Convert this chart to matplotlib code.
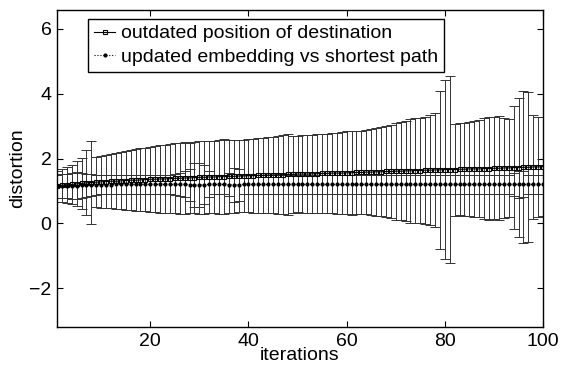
import numpy as np
import matplotlib
matplotlib.use('Agg')
import matplotlib.pyplot as plt

plt.rcParams['font.family'] = ['Liberation Sans', 'DejaVu Sans']

iterations = np.arange(1, 101)

# outdated position of destination
outdated_mean = [1.15, 1.17, 1.19, 1.20, 1.22, 1.23, 1.25, 1.26, 1.27, 1.28,
                 1.29, 1.30, 1.30, 1.31, 1.32, 1.33, 1.33, 1.34, 1.35, 1.36,
                 1.36, 1.37, 1.37, 1.38, 1.39, 1.39, 1.40, 1.40, 1.41, 1.42,
                 1.42, 1.43, 1.43, 1.44, 1.44, 1.45, 1.45, 1.46, 1.46, 1.47,
                 1.47, 1.48, 1.48, 1.49, 1.49, 1.50, 1.50, 1.51, 1.51, 1.52,
                 1.52, 1.52, 1.53, 1.53, 1.54, 1.54, 1.55, 1.55, 1.55, 1.56,
                 1.56, 1.57, 1.57, 1.58, 1.58, 1.59, 1.59, 1.60, 1.60, 1.61,
                 1.61, 1.62, 1.62, 1.63, 1.63, 1.64, 1.64, 1.65, 1.65, 1.66,
                 1.66, 1.66, 1.67, 1.67, 1.68, 1.68, 1.68, 1.69, 1.69, 1.70,
                 1.70, 1.71, 1.71, 1.72, 1.72, 1.73, 1.73, 1.74, 1.74, 1.75]
outdated_err = [0.48, 0.52, 0.55, 0.60, 0.70, 0.80, 1.00, 1.27, 0.78, 0.80,
                0.82, 0.84, 0.86, 0.88, 0.90, 0.92, 0.95, 0.97, 0.98, 1.00,
                1.02, 1.04, 1.05, 1.06, 1.08, 1.10, 1.10, 1.08, 1.10, 1.12,
                1.12, 1.10, 1.12, 1.14, 1.15, 1.12, 1.13, 1.10, 1.12, 1.12,
                1.14, 1.15, 1.16, 1.17, 1.18, 1.20, 1.22, 1.25, 1.20, 1.18,
                1.20, 1.21, 1.20, 1.22, 1.23, 1.22, 1.24, 1.25, 1.27, 1.28,
                1.30, 1.28, 1.27, 1.30, 1.32, 1.35, 1.37, 1.40, 1.45, 1.50,
                1.52, 1.55, 1.60, 1.62, 1.62, 1.65, 1.70, 1.75, 2.45, 2.75,
                2.90, 1.42, 1.42, 1.44, 1.46, 1.48, 1.50, 1.55, 1.60, 1.58,
                1.60, 1.55, 1.52, 1.90, 2.15, 2.35, 2.32, 1.60, 1.55, 1.52]

# updated embedding vs shortest path
updated_mean = [1.14, 1.15, 1.15, 1.16, 1.16, 1.17, 1.17, 1.18, 1.18, 1.19,
                1.19, 1.19, 1.20, 1.20, 1.20, 1.20, 1.20, 1.20, 1.20, 1.20,
                1.20, 1.20, 1.20, 1.20, 1.20, 1.20, 1.20, 1.19, 1.18, 1.18,
                1.19, 1.20, 1.20, 1.20, 1.20, 1.19, 1.18, 1.19, 1.20, 1.20,
                1.20, 1.20, 1.20, 1.20, 1.20, 1.20, 1.20, 1.20, 1.20, 1.20,
                1.20, 1.20, 1.20, 1.20, 1.20, 1.20, 1.20, 1.20, 1.20, 1.20,
                1.20, 1.20, 1.20, 1.20, 1.20, 1.20, 1.20, 1.20, 1.20, 1.20,
                1.20, 1.20, 1.20, 1.20, 1.20, 1.20, 1.20, 1.20, 1.20, 1.20,
                1.20, 1.20, 1.20, 1.20, 1.20, 1.20, 1.20, 1.20, 1.20, 1.20,
                1.20, 1.20, 1.20, 1.20, 1.20, 1.20, 1.20, 1.20, 1.20, 1.20]
updated_err = [0.35, 0.36, 0.38, 0.40, 0.42, 0.38, 0.35, 0.33, 0.30, 0.30,
               0.30, 0.29, 0.29, 0.29, 0.28, 0.28, 0.28, 0.28, 0.28, 0.28,
               0.28, 0.28, 0.28, 0.30, 0.32, 0.35, 0.40, 0.50, 0.67, 0.68,
               0.60, 0.40, 0.30, 0.28, 0.28, 0.35, 0.52, 0.50, 0.30, 0.28,
               0.28, 0.28, 0.28, 0.28, 0.28, 0.28, 0.28, 0.28, 0.28, 0.28,
               0.28, 0.28, 0.28, 0.28, 0.28, 0.28, 0.28, 0.28, 0.28, 0.28,
               0.28, 0.28, 0.28, 0.28, 0.28, 0.28, 0.28, 0.28, 0.28, 0.28,
               0.28, 0.28, 0.28, 0.28, 0.28, 0.28, 0.28, 0.28, 0.28, 0.28,
               0.28, 0.28, 0.28, 0.28, 0.28, 0.28, 0.28, 0.28, 0.28, 0.28,
               0.28, 0.28, 0.28, 0.35, 0.43, 0.40, 0.30, 0.28, 0.28, 0.28]

fig = plt.figure(figsize=(5.61, 3.66), dpi=100)
ax = fig.add_axes([0.1016, 0.1066, 0.8664, 0.8674])

ax.errorbar(iterations, outdated_mean, yerr=outdated_err, fmt='none',
            ecolor='0.2', elinewidth=0.7, capsize=3.5, capthick=0.7)
ax.errorbar(iterations, updated_mean, yerr=updated_err, fmt='none',
            ecolor='0.2', elinewidth=0.7, capsize=3.5, capthick=0.7)
ax.plot(iterations, outdated_mean, '-s', color='black', lw=0.8, ms=2.5,
        mfc='none', mew=0.8, label='outdated position of destination')
ax.plot(iterations, updated_mean, ':', color='black', lw=0.8, marker='.',
        ms=4, label='updated embedding vs shortest path')

ax.set_xlim(1, 100)
ax.set_ylim(-3.2, 6.6)
ax.set_xticks([20, 40, 60, 80, 100])
ax.set_yticks([-2, 0, 2, 4, 6])
ax.set_yticklabels(['\u22122', '0', '2', '4', '6'])
ax.tick_params(direction='in', top=True, right=True, length=4, width=0.8,
               labelsize=14, pad=4)
for s in ax.spines.values():
    s.set_linewidth(1.0)

ax.set_xlabel('iterations', fontsize=14, labelpad=-2)
ax.set_ylabel('distortion', fontsize=14, labelpad=2)

leg = ax.legend(loc='upper left', bbox_to_anchor=(0.064, 0.97), fontsize=14,
                handlelength=1.1, handletextpad=0.3, borderpad=0.3,
                labelspacing=0.3, borderaxespad=0, fancybox=False,
                framealpha=1, edgecolor='black')
leg.get_frame().set_linewidth(1.0)

fig.savefig('out.png', dpi=100)
